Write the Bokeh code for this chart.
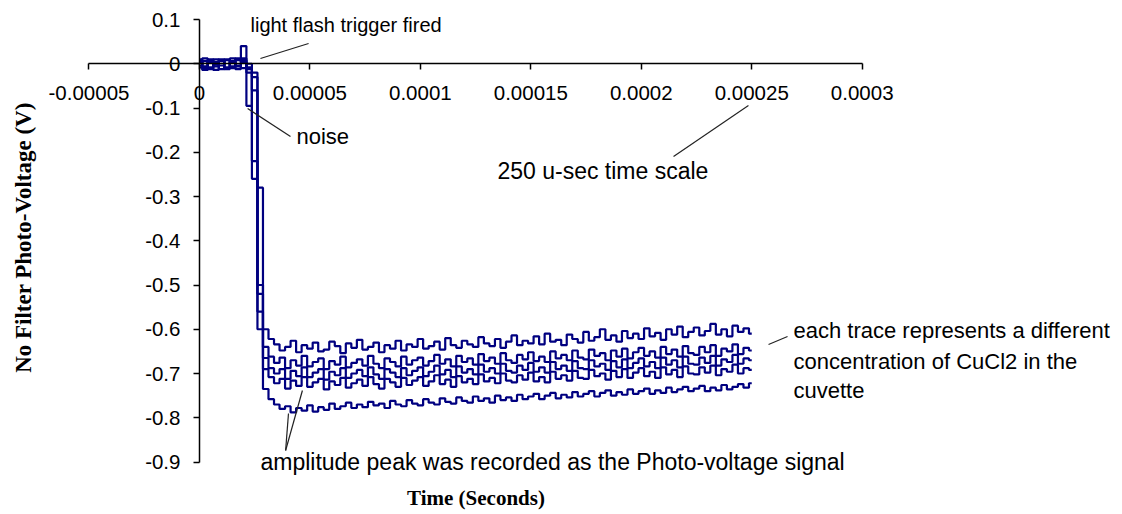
from bokeh.plotting import figure
from bokeh.models import Range1d, FixedTicker, Label, ColumnDataSource
from bokeh.embed import file_html
from bokeh.resources import INLINE
import math

# ---------------- data ----------------
sample_interval = 2.5e-6          # seconds between samples
n_samples = 101
time_s = [round(i * sample_interval, 10) for i in range(n_samples)]

trace_1 = [
    0.004, -0.010, 0.008, -0.006, 0.010, -0.012, 0.006, -0.004, 0.012, -0.012,
    -0.030, -0.280, -0.600, -0.622, -0.634, -0.648, -0.640, -0.626, -0.652, -0.636,
    -0.644, -0.630, -0.650, -0.646, -0.628, -0.638, -0.654, -0.632, -0.642, -0.624,
    -0.646, -0.640, -0.630, -0.652, -0.636, -0.644, -0.626, -0.648, -0.634, -0.640,
    -0.622, -0.644, -0.638, -0.628, -0.646, -0.620, -0.636, -0.642, -0.626, -0.634,
    -0.640, -0.618, -0.632, -0.638, -0.622, -0.642, -0.628, -0.614, -0.636, -0.626,
    -0.632, -0.616, -0.634, -0.610, -0.628, -0.624, -0.636, -0.612, -0.622, -0.630,
    -0.606, -0.626, -0.618, -0.600, -0.624, -0.614, -0.628, -0.604, -0.620, -0.610,
    -0.622, -0.598, -0.616, -0.608, -0.624, -0.600, -0.612, -0.594, -0.618, -0.606,
    -0.596, -0.614, -0.604, -0.588, -0.612, -0.600, -0.616, -0.592, -0.606, -0.598,
    -0.610,
]
trace_2 = [
    -0.008, 0.006, -0.012, 0.010, -0.004, 0.008, -0.010, 0.012, 0.040, -0.095,
    -0.020, -0.520, -0.640, -0.662, -0.676, -0.664, -0.688, -0.670, -0.682, -0.660,
    -0.684, -0.674, -0.666, -0.690, -0.672, -0.680, -0.662, -0.686, -0.676, -0.668,
    -0.682, -0.660, -0.678, -0.688, -0.666, -0.674, -0.684, -0.662, -0.680, -0.670,
    -0.664, -0.682, -0.672, -0.658, -0.678, -0.668, -0.684, -0.660, -0.674, -0.666,
    -0.680, -0.656, -0.672, -0.664, -0.678, -0.654, -0.670, -0.676, -0.658, -0.668,
    -0.652, -0.672, -0.662, -0.674, -0.650, -0.666, -0.658, -0.670, -0.648, -0.664,
    -0.668, -0.646, -0.660, -0.654, -0.670, -0.648, -0.662, -0.644, -0.666, -0.652,
    -0.642, -0.660, -0.650, -0.664, -0.640, -0.656, -0.646, -0.662, -0.638, -0.654,
    -0.658, -0.640, -0.652, -0.636, -0.660, -0.644, -0.650, -0.634, -0.656, -0.642,
    -0.648,
]
trace_3 = [
    0.010, -0.006, 0.004, -0.014, 0.006, -0.008, 0.012, -0.006, -0.010, 0.000,
    -0.220, -0.560, -0.665, -0.688, -0.700, -0.690, -0.712, -0.694, -0.706, -0.686,
    -0.708, -0.698, -0.690, -0.714, -0.696, -0.704, -0.688, -0.710, -0.700, -0.692,
    -0.706, -0.686, -0.702, -0.712, -0.690, -0.698, -0.708, -0.688, -0.704, -0.694,
    -0.686, -0.706, -0.696, -0.682, -0.702, -0.692, -0.708, -0.684, -0.698, -0.690,
    -0.702, -0.680, -0.696, -0.688, -0.700, -0.678, -0.694, -0.698, -0.682, -0.692,
    -0.676, -0.696, -0.686, -0.698, -0.674, -0.690, -0.682, -0.694, -0.672, -0.688,
    -0.690, -0.670, -0.684, -0.678, -0.692, -0.672, -0.686, -0.668, -0.688, -0.676,
    -0.666, -0.684, -0.674, -0.688, -0.664, -0.680, -0.670, -0.686, -0.662, -0.678,
    -0.680, -0.664, -0.676, -0.660, -0.682, -0.668, -0.674, -0.658, -0.678, -0.666,
    -0.670,
]
trace_4 = [
    -0.004, 0.012, -0.008, 0.004, -0.012, 0.010, -0.006, 0.008, 0.004, -0.020,
    -0.260, -0.600, -0.690, -0.708, -0.722, -0.712, -0.734, -0.716, -0.728, -0.708,
    -0.730, -0.720, -0.712, -0.736, -0.718, -0.726, -0.710, -0.732, -0.722, -0.714,
    -0.728, -0.708, -0.724, -0.734, -0.712, -0.720, -0.730, -0.710, -0.726, -0.716,
    -0.708, -0.728, -0.718, -0.704, -0.724, -0.714, -0.730, -0.706, -0.720, -0.712,
    -0.724, -0.702, -0.718, -0.710, -0.722, -0.700, -0.716, -0.720, -0.704, -0.714,
    -0.698, -0.718, -0.708, -0.720, -0.696, -0.712, -0.704, -0.716, -0.694, -0.710,
    -0.712, -0.692, -0.706, -0.700, -0.714, -0.694, -0.708, -0.690, -0.710, -0.698,
    -0.688, -0.706, -0.696, -0.710, -0.686, -0.702, -0.692, -0.708, -0.684, -0.700,
    -0.702, -0.686, -0.698, -0.682, -0.704, -0.690, -0.696, -0.680, -0.700, -0.688,
    -0.692,
]
trace_5 = [
    0.006, -0.014, 0.010, -0.002, 0.008, -0.010, 0.004, -0.012, 0.008, -0.008,
    -0.060, -0.500, -0.735, -0.758, -0.770, -0.780, -0.774, -0.788, -0.778, -0.784,
    -0.772, -0.786, -0.776, -0.782, -0.768, -0.780, -0.774, -0.766, -0.778, -0.770,
    -0.776, -0.764, -0.772, -0.768, -0.778, -0.762, -0.770, -0.774, -0.760, -0.768,
    -0.772, -0.758, -0.766, -0.770, -0.756, -0.764, -0.768, -0.754, -0.762, -0.766,
    -0.752, -0.762, -0.756, -0.766, -0.750, -0.760, -0.754, -0.762, -0.748, -0.758,
    -0.752, -0.746, -0.758, -0.750, -0.744, -0.756, -0.748, -0.754, -0.742, -0.752,
    -0.746, -0.740, -0.752, -0.744, -0.738, -0.750, -0.742, -0.748, -0.736, -0.746,
    -0.740, -0.734, -0.746, -0.738, -0.744, -0.732, -0.742, -0.736, -0.730, -0.740,
    -0.734, -0.728, -0.740, -0.732, -0.738, -0.726, -0.736, -0.730, -0.724, -0.732,
    -0.722,
]
traces = [trace_1, trace_2, trace_3, trace_4, trace_5]

x_ticks = [-0.00005, 0.0, 0.00005, 0.0001, 0.00015, 0.0002, 0.00025, 0.0003]
x_tick_labels = ["-0.00005", "0", "0.00005", "0.0001", "0.00015", "0.0002", "0.00025", "0.0003"]
y_ticks = [0.1, 0.0, -0.1, -0.2, -0.3, -0.4, -0.5, -0.6, -0.7, -0.8, -0.9]
y_tick_labels = ["0.1", "0", "-0.1", "-0.2", "-0.3", "-0.4", "-0.5", "-0.6", "-0.7", "-0.8", "-0.9"]

x_title = "Time (Seconds)"
y_title = "No Filter Photo-Voltage (V)"

# annotation texts: (text, x, y, font size) anchored in data units
notes = [
    ("light flash trigger fired", 0.0000231, 0.0887, "20px"),
    ("noise", 0.0000439, -0.1644, "22px"),
    ("250 u-sec time scale", 0.0001349, -0.2435, "23px"),
    ("each trace represents a  different", 0.0002689, -0.6028, "22px"),
    ("concentration of CuCl2 in the", 0.0002689, -0.6729, "22px"),
    ("cuvette", 0.0002689, -0.7384, "22px"),
    ("amplitude peak was recorded as the Photo-voltage signal", 0.0000276, -0.8989, "23px"),
]
# leader lines (x0, y0, x1, y1) in data units
leaders = [
    (0.0000276, 0.0119, 0.0000494, 0.0458),
    (0.0000218, -0.1011, 0.0000412, -0.1644),
    (0.0002146, -0.2096, 0.0002485, -0.0944),
    (0.0002576, -0.6345, 0.0002662, -0.6164),
    (0.0000390, -0.8740, 0.0000403, -0.7904),
    (0.0000390, -0.8740, 0.0000466, -0.7384),
]

# ---------------- figure ----------------
p = figure(width=1120, height=512, output_backend="svg", toolbar_location=None,
           x_range=Range1d(-0.00009006, 0.00041692),
           y_range=Range1d(-1.014124, 0.142938),
           min_border_left=0, min_border_right=0, min_border_top=0, min_border_bottom=0,
           title=None)
p.grid.visible = False
p.outline_line_color = None
p.background_fill_color = "white"
p.border_fill_color = "white"

for tr in traces:
    src = ColumnDataSource(dict(t=time_s, v=tr))
    p.step(x="t", y="v", source=src, mode="center", line_color="#000080", line_width=2.2)

seg = ColumnDataSource(dict(x0=[l[0] for l in leaders], y0=[l[1] for l in leaders],
                            x1=[l[2] for l in leaders], y1=[l[3] for l in leaders]))
p.segment(x0="x0", y0="y0", x1="x1", y1="y1", source=seg, line_color="#222222", line_width=1.2)

# axes crossing at zero
xa = p.xaxis[0]
xa.fixed_location = 0
xa.bounds = (-0.00005, 0.0003)
xa.ticker = FixedTicker(ticks=x_ticks)
xa.major_label_overrides = dict(zip(x_ticks, x_tick_labels))
xa.major_tick_in = 0
xa.major_tick_out = 6
xa.minor_tick_in = 0
xa.minor_tick_out = 0
xa.major_label_standoff = 16
xa.axis_line_width = 1.5
xa.axis_line_color = "black"
xa.major_tick_line_color = "black"
xa.major_tick_line_width = 1.5
xa.major_label_text_font = "Liberation Sans"
xa.major_label_text_font_size = "20.5px"
xa.major_label_text_color = "#000000"

ya = p.yaxis[0]
ya.fixed_location = 0
ya.bounds = (-0.9, 0.1)
ya.ticker = FixedTicker(ticks=y_ticks)
ya.major_label_overrides = dict(zip(y_ticks, y_tick_labels))
ya.major_tick_in = 0
ya.major_tick_out = 6
ya.minor_tick_in = 0
ya.minor_tick_out = 0
ya.major_label_standoff = 13
ya.axis_line_width = 1.5
ya.axis_line_color = "black"
ya.major_tick_line_color = "black"
ya.major_tick_line_width = 1.5
ya.major_label_text_font = "Liberation Sans"
ya.major_label_text_font_size = "20.5px"
ya.major_label_text_color = "#000000"

for text, x, y, fs in notes:
    p.add_layout(Label(x=x, y=y, text=text, text_font="Liberation Sans",
                       text_font_size=fs, text_color="#000000",
                       text_baseline="middle", text_align="left"))

p.add_layout(Label(x=0.00012518, y=-0.9810, text=x_title, text_font="Liberation Serif",
                   text_font_style="bold", text_font_size="21px", text_color="#000000",
                   text_baseline="middle", text_align="center"))
p.add_layout(Label(x=-0.00007965, y=-0.3927, text=y_title, text_font="Liberation Serif",
                   text_font_style="bold", text_font_size="23px", text_color="#000000",
                   text_baseline="middle", text_align="center", angle=math.pi / 2))

open("out.html", "w").write(file_html(p, INLINE))
